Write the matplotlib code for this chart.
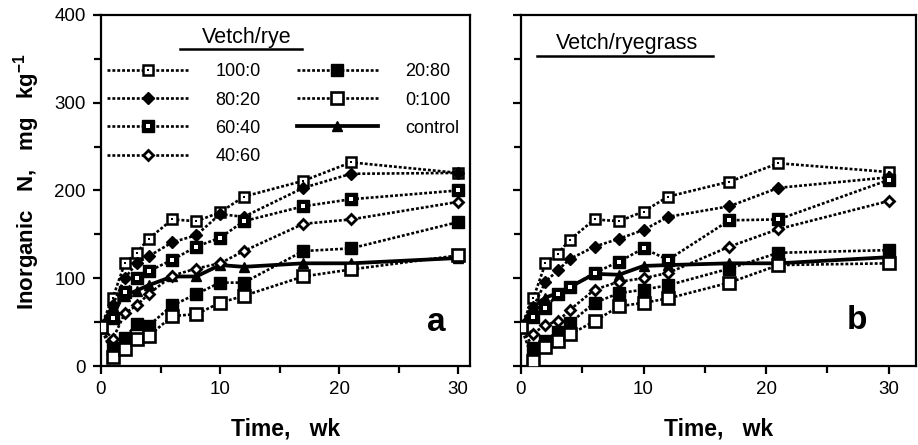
import numpy as np
import matplotlib
matplotlib.use("Agg")
import matplotlib.pyplot as plt
from matplotlib.legend_handler import HandlerTuple
from matplotlib.ticker import MultipleLocator

plt.rcParams['font.family'] = ['Liberation Sans', 'DejaVu Sans']
plt.rcParams['mathtext.fontset'] = 'custom'
plt.rcParams['mathtext.rm'] = 'Liberation Sans'
plt.rcParams['mathtext.bf'] = 'Liberation Sans:bold'

# sampling times (weeks)
weeks = [0, 1, 2, 3, 4, 6, 8, 10, 12, 17, 21, 30]

# panel a: vetch/rye mixtures, inorganic N (mg/kg)
rye_100_0 = [45, 78, 117, 129, 145, 167, 165, 175, 193, 211, 232, 220]
rye_80_20 = [45, 70, 100, 117, 125, 141, 149, 173, 170, 203, 219, 220]
rye_60_40 = [45, 55, 84, 100, 108, 121, 136, 146, 165, 182, 190, 200]
rye_40_60 = [45, 31, 60, 69, 82, 103, 111, 117, 131, 162, 167, 187]
rye_20_80 = [45, 20, 32, 48, 46, 69, 82, 95, 95, 131, 134, 164]
rye_0_100 = [45, 10, 19, 31, 34, 57, 59, 72, 80, 102, 110, 126]
rye_control = [45, 68, 80, 86, 92, 102, 102, 115, 113, 117, 117, 123]

# panel b: vetch/ryegrass mixtures
rg_100_0 = [45, 77, 117, 128, 144, 167, 165, 176, 193, 210, 231, 221]
rg_80_20 = [45, 67, 96, 109, 122, 136, 145, 155, 170, 182, 203, 215]
rg_60_40 = [45, 56, 66, 82, 90, 106, 119, 134, 121, 166, 167, 212]
rg_40_60 = [45, 37, 47, 51, 64, 87, 96, 100, 106, 136, 156, 188]
rg_20_80 = [45, 21, 28, 39, 49, 72, 83, 87, 92, 111, 129, 132]
rg_0_100 = [45, 6, 22, 29, 36, 51, 68, 72, 77, 95, 115, 117]
rg_control = [45, 68, 78, 83, 90, 105, 104, 114, 115, 117, 117, 124]

labels = ['100:0', '80:20', '60:40', '40:60', '20:80', '0:100', 'control']

dot_ls = (0, (1.1, 0.75))
LW = 1.9


def draw_panel(ax, series):
    s100, s80, s60, s40, s20, s0, ctl = series
    h_ctl, = ax.plot(weeks, ctl, color='black', lw=2.7, ls='-', marker='^',
                     ms=7.5, mfc='black', mec='black', zorder=3)
    h1, = ax.plot(weeks, s100, color='black', lw=LW, ls=dot_ls, marker='s',
                  ms=7.6, mfc='white', mec='black', mew=1.8, zorder=4)
    h1d, = ax.plot(weeks, s100, ls='none', marker='s', ms=2.0,
                   mfc='black', mec='black', mew=0, zorder=5)
    h2, = ax.plot(weeks, s80, color='black', lw=LW, ls=dot_ls, marker='D',
                  ms=6.6, mfc='black', mec='black', zorder=4)
    h3, = ax.plot(weeks, s60, color='black', lw=LW, ls=dot_ls, marker='s',
                  ms=8, mfc='black', mec='black', zorder=4)
    h3d, = ax.plot(weeks, s60, ls='none', marker='s', ms=2.2,
                   mfc='white', mec='white', mew=0, zorder=5)
    h4, = ax.plot(weeks, s40, color='black', lw=LW, ls=dot_ls, marker='D',
                  ms=5.6, mfc='white', mec='black', mew=2.0, zorder=4)
    h5, = ax.plot(weeks, s20, color='black', lw=LW, ls=dot_ls, marker='s',
                  ms=9, mfc='black', mec='black', zorder=4)
    h6, = ax.plot(weeks, s0, color='black', lw=LW, ls=dot_ls, marker='s',
                  ms=8.4, mfc='white', mec='black', mew=1.9, zorder=4)
    return [(h1, h1d), h2, (h3, h3d), h4, h5, h6, h_ctl]


def style_axes(ax, xmax, show_ylabels):
    ax.set_xlim(0, xmax)
    ax.set_ylim(0, 400)
    ax.xaxis.set_major_locator(MultipleLocator(10))
    ax.xaxis.set_minor_locator(MultipleLocator(5))
    ax.yaxis.set_major_locator(MultipleLocator(100))
    ax.yaxis.set_minor_locator(MultipleLocator(50))
    ax.tick_params(which='major', direction='out', length=6, width=1.6,
                   labelsize=13.5, pad=5)
    ax.tick_params(which='minor', direction='out', length=5, width=1.6)
    if not show_ylabels:
        ax.tick_params(axis='y', labelleft=False)
    for sp in ax.spines.values():
        sp.set_linewidth(1.6)
    ax.set_xlabel('Time,   wk', fontsize=16.5, fontweight='bold', labelpad=14)


fig = plt.figure(figsize=(9.18, 4.45), dpi=100)
ax_a = fig.add_axes([0.110, 0.1775, 0.402, 0.789])
ax_b = fig.add_axes([0.5675, 0.1775, 0.430, 0.789])

hands_a = draw_panel(ax_a, [rye_100_0, rye_80_20, rye_60_40, rye_40_60,
                            rye_20_80, rye_0_100, rye_control])
draw_panel(ax_b, [rg_100_0, rg_80_20, rg_60_40, rg_40_60,
                  rg_20_80, rg_0_100, rg_control])

style_axes(ax_a, 31, True)
style_axes(ax_b, 32.2, False)

ax_a.set_ylabel('Inorganic   N,   mg   kg$^{\\mathbf{-1}}$', fontsize=16,
                fontweight='bold')
ax_a.yaxis.set_label_coords(-0.16, 0.525)

ax_a.legend(hands_a, labels, ncol=2, loc='upper left',
            bbox_to_anchor=(0.016, 0.862), frameon=False,
            fontsize=13, handlelength=4.5, handletextpad=1.5,
            columnspacing=2.0, labelspacing=0.62, borderpad=0,
            borderaxespad=0, numpoints=1,
            handler_map={tuple: HandlerTuple(ndivide=1, pad=0)})

# underlined headings
ax_a.text(0.395, 0.935, 'Vetch/rye', transform=ax_a.transAxes,
          ha='center', va='center', fontsize=15.5)
ax_a.plot([0.215, 0.545], [0.902, 0.902], transform=ax_a.transAxes,
          color='black', lw=1.8, clip_on=False)
ax_b.text(0.268, 0.918, 'Vetch/ryegrass', transform=ax_b.transAxes,
          ha='center', va='center', fontsize=15.5)
ax_b.plot([0.04, 0.486], [0.883, 0.883], transform=ax_b.transAxes,
          color='black', lw=1.8, clip_on=False)

ax_a.text(0.91, 0.125, 'a', transform=ax_a.transAxes, ha='center',
          va='center', fontsize=24, fontweight='bold')
ax_b.text(0.85, 0.13, 'b', transform=ax_b.transAxes, ha='center',
          va='center', fontsize=24, fontweight='bold')

fig.savefig('out.png', dpi=100)
